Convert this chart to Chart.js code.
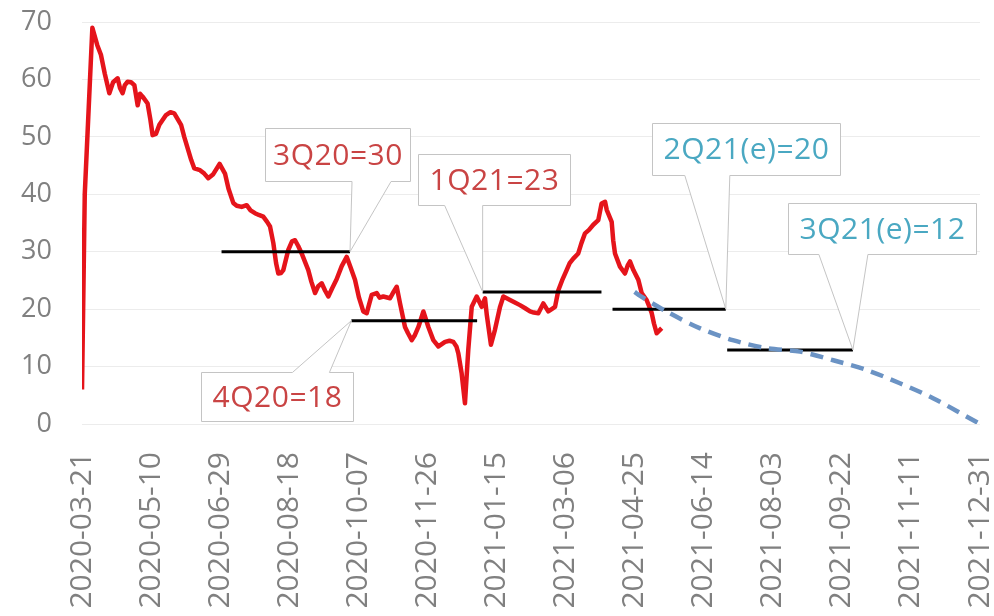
<!DOCTYPE html>
<html><head><meta charset="utf-8">
<script src="https://cdn.jsdelivr.net/npm/chart.js@4.4.1/dist/chart.umd.min.js"></script>
<style>html,body{margin:0;padding:0;background:#fff;}#wrap{width:994px;height:616px;position:relative;}</style>
</head><body><div id="wrap"><canvas id="c" width="994" height="616"></canvas></div>
<script>
// ---- data ----
const xTickLabels = ['2020-03-21','2020-05-10','2020-06-29','2020-08-18','2020-10-07','2020-11-26','2021-01-15','2021-03-06','2021-04-25','2021-06-14','2021-08-03','2021-09-22','2021-11-11','2021-12-31'];
const yTickValues = [0,10,20,30,40,50,60,70];

// day index counted from 2020-03-21
const redDays = [0,2,7.5,11,13.7,16.5,19.8,22.5,25.8,27.5,29.4,31,33,35.5,37.9,40.3,42,43.9,47.5,49.5,51.1,53.5,56,60.8,64,66.8,71.7,74,76.5,79,81.3,85.4,88.5,91.4,95,99.6,103.5,106,109.5,112,115.6,119.2,122,125.2,128,131.2,134,136.1,138.5,140.5,142.1,144,145.7,149.3,152,154.2,156.5,159,161.5,163.8,166,168.7,171,173.5,176,178.3,181,184.3,188,191.6,194.5,197.6,200.5,203.6,206.1,208,209.7,213.3,215.5,218.1,223,225.5,227.8,230.2,233.8,236,238.7,241,243.5,247.1,250.7,254.3,258,262.8,266,268.8,271,272.4,274.8,277.2,279.6,282.1,285.7,289.3,291.7,293,296,298.9,302.6,305,309.8,313,317,320.5,324.3,327,330.3,333.9,337.5,340,342.4,344.8,347.5,350.8,353,355.6,359.2,361.5,364.1,367,370.1,373.7,376.1,378.6,379.8,383.4,384.5,385.8,389.4,393,395,396.7,399.1,402.7,405.1,408.7,410.5,412.4,414,416,419.6];
const redValues = [6,40,69,66,64.3,61,57.6,59.5,60.2,58.5,57.6,59,59.6,59.5,59,55.5,57.5,57,55.8,53,50.3,50.5,52.1,53.8,54.3,54.1,52.1,50,48,46,44.5,44.2,43.6,42.8,43.5,45.3,43.6,41,38.5,38,37.8,38.1,37.2,36.7,36.4,36.1,35.2,34.4,31.5,28,26.2,26.3,26.8,30.3,31.8,32,31,29.7,28.2,26.8,24.8,22.8,24,24.5,23.2,22.2,23.6,25.2,27.5,29.1,27.2,25.1,22,19.6,19.3,21,22.5,22.8,22,22.2,21.9,23,23.9,21,16.9,15.8,14.6,15.5,16.9,19.6,16.9,14.6,13.5,14.3,14.5,14.3,13.5,12.3,8.8,3.6,12.9,20.4,22.2,20.4,21.9,19,13.8,16.4,20.4,22.2,21.6,21.2,20.7,20.2,19.6,19.4,19.3,21,19.6,20,20.4,23.3,25,26.8,28,28.8,29.7,31.5,33.2,33.8,34.7,35.5,38.4,38.7,37.3,35.2,32,29.7,27.4,26.2,27.6,28.3,26.8,25.1,22.8,21.6,20.5,19.3,17.5,15.8,16.7];

const blueDays = [400,404,423,447,471,495.6,519.7,543.8,568,592,616,650];
const blueValues = [23,22.3,19.6,16.7,14.6,13.2,12.6,11.1,9.4,7.1,4.5,0];

const quarterTexts = ['3Q20=30','4Q20=18','1Q21=23','2Q21(e)=20','3Q21(e)=12'];
const quarterStartDays = [101,195,290,384,467];
const quarterEndDays = [194,286,376,466,558];
const quarterValues = [30,18,23,20,12.9];

// ---- styles / layout ----
const RED = '#e5141b', BLUE = '#6b93c4';
const TXT_RED = '#c94444', TXT_BLUE = '#4aa8c2';
const FONT = "'Open Sans', 'Noto Sans', sans-serif";
const calloutLayout = [
  {anchor:'end',   color:TXT_RED,  box:[-85,-124,145,53], wedge:'bottom', base:[2,41]},
  {anchor:'start', color:TXT_RED,  box:[-150,51,152,49],  wedge:'top',    base:[-59,-22]},
  {anchor:'start', color:TXT_RED,  box:[-65,-138,152,51], wedge:'bottom', base:[-38,0]},
  {anchor:'end',   color:TXT_BLUE, box:[-74,-186,188,52], wedge:'bottom', base:[-41,4]},
  {anchor:'end',   color:TXT_BLUE, box:[-65,-147,188,51], wedge:'bottom', base:[-34,15]}
];

const pts = (xs, ys) => xs.map((x, i) => ({x, y: ys[i]}));
const datasets = [
  {data: pts(blueDays, blueValues), borderColor: BLUE, borderWidth: 4.5, borderDash: [13, 8], pointRadius: 0, tension: 0.3, order: 0},
  {data: pts(redDays, redValues), borderColor: RED, borderWidth: 4.5, pointRadius: 0, tension: 0, order: 2, borderJoinStyle: 'round'}
];
quarterTexts.forEach((t, i) => {
  datasets.push({data: [{x: quarterStartDays[i], y: quarterValues[i]}, {x: quarterEndDays[i], y: quarterValues[i]}],
    borderColor: '#000', borderWidth: 3, pointRadius: 0, order: 1});
});

const calloutPlugin = {
  id: 'callouts',
  afterDraw(chart) {
    const ctx = chart.ctx, xs = chart.scales.x, ys = chart.scales.y;
    ctx.save();
    calloutLayout.forEach((c, i) => {
      const day = c.anchor === 'end' ? quarterEndDays[i] : quarterStartDays[i];
      const tx = xs.getPixelForValue(day), ty = ys.getPixelForValue(quarterValues[i]);
      const L = Math.round(tx + c.box[0]) + 0.5, T = Math.round(ty + c.box[1]) + 0.5;
      const R = L + c.box[2], B = T + c.box[3];
      const b1 = tx + c.base[0], b2 = tx + c.base[1];
      ctx.beginPath();
      if (c.wedge === 'bottom') {
        ctx.moveTo(L, T); ctx.lineTo(R, T); ctx.lineTo(R, B); ctx.lineTo(b2, B);
        ctx.lineTo(tx, ty); ctx.lineTo(b1, B); ctx.lineTo(L, B);
      } else {
        ctx.moveTo(L, T); ctx.lineTo(b1, T); ctx.lineTo(tx, ty); ctx.lineTo(b2, T);
        ctx.lineTo(R, T); ctx.lineTo(R, B); ctx.lineTo(L, B);
      }
      ctx.closePath();
      ctx.fillStyle = '#fff'; ctx.fill();
      ctx.strokeStyle = '#c4c4c4'; ctx.lineWidth = 1; ctx.stroke();
      ctx.fillStyle = c.color;
      ctx.font = '30px ' + FONT;
      if ('letterSpacing' in ctx) ctx.letterSpacing = '0.5px';
      ctx.textAlign = 'center'; ctx.textBaseline = 'middle';
      ctx.fillText(quarterTexts[i], (L + R) / 2, (T + B) / 2 + 1);
    });
    ctx.restore();
  }
};

new Chart(document.getElementById('c'), {
  type: 'line',
  data: {datasets},
  options: {
    responsive: false, animation: false,
    layout: {padding: {top: 22, right: 14, left: 0, bottom: 0}},
    plugins: {legend: {display: false}, tooltip: {enabled: false}},
    scales: {
      x: {
        type: 'linear', min: 0, max: 650,
        grid: {display: false, drawTicks: false}, border: {display: false},
        ticks: {stepSize: 50, autoSkip: false, minRotation: 90, maxRotation: 90, padding: 28,
          color: '#808080', font: {family: FONT, size: 30},
          callback: v => xTickLabels[Math.round(v / 50)]},
        afterFit: s => { s.height = 192; s.paddingLeft = 0; s.paddingRight = 0; }
      },
      y: {
        min: 0, max: 70,
        grid: {color: '#ececec', lineWidth: 1, drawTicks: false}, border: {display: false},
        ticks: {stepSize: 10, padding: 30, color: '#808080', font: {family: FONT, size: 27},
          callback: v => yTickValues.includes(v) ? String(v) : ''},
        afterFit: s => { s.width = 82; s.paddingTop = 0; s.paddingBottom = 0; }
      }
    }
  },
  plugins: [calloutPlugin]
});
</script></body></html>
